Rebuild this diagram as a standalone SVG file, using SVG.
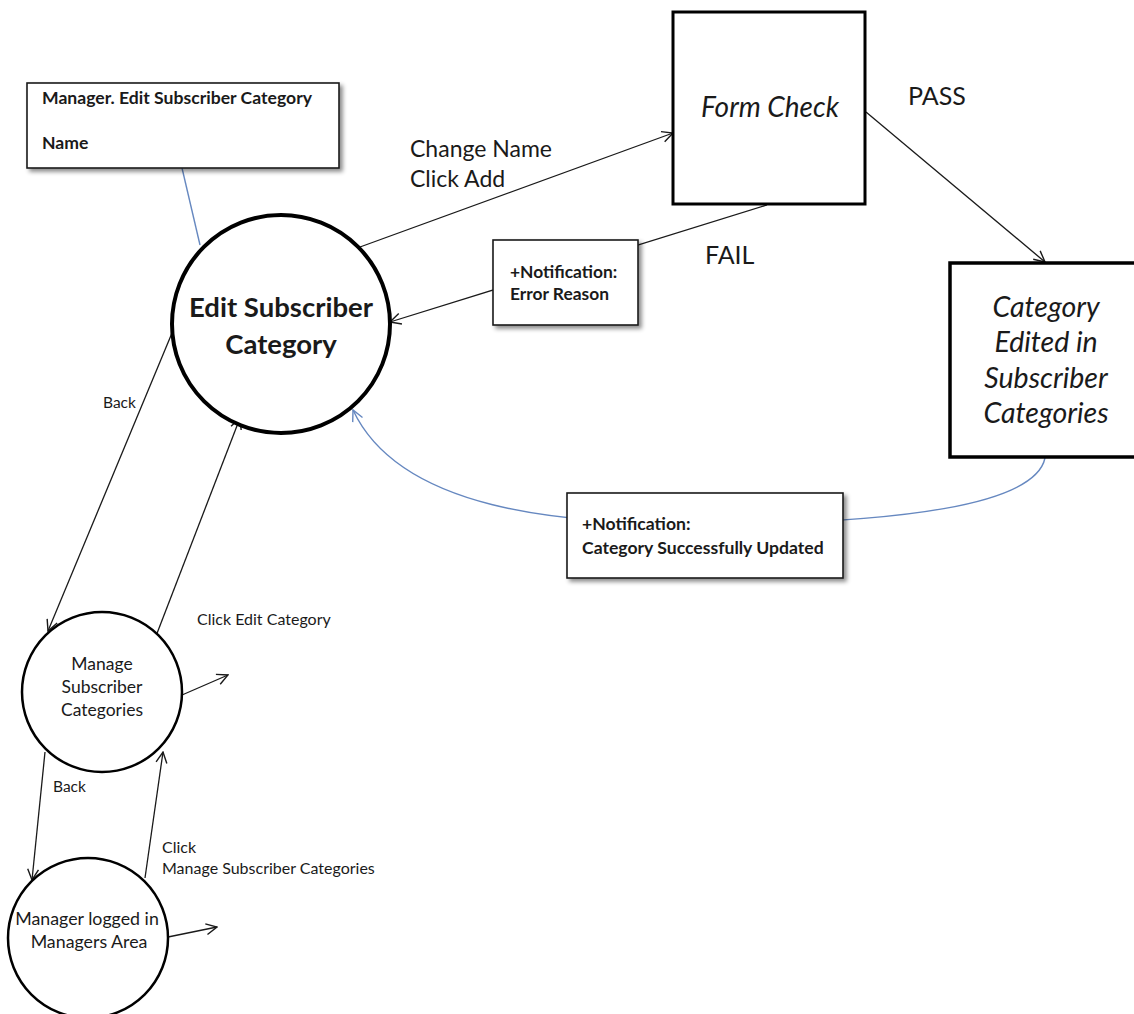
<svg xmlns="http://www.w3.org/2000/svg" width="1134" height="1014" viewBox="0 0 1134 1014">
<style>
.t{font-family:Lato,"Liberation Sans",sans-serif;fill:#1a1a1a}
.b{font-weight:bold}
.i{font-style:italic}
.ln{stroke:#1a1a1a;stroke-width:1.3;fill:none}
.bl{stroke:#6688c0;stroke-width:1.4;fill:none}
.box{fill:#fff;stroke:#1a1a1a;stroke-width:1.6}
</style>
<defs>
<marker id="ah" viewBox="0 0 12 12" refX="11" refY="6" markerWidth="13" markerHeight="13" orient="auto" markerUnits="userSpaceOnUse">
<path d="M1,1 L11,6 L1,11" fill="none" stroke="#1a1a1a" stroke-width="1.3"/>
</marker>
<marker id="ahb" viewBox="0 0 12 12" refX="11" refY="6" markerWidth="13" markerHeight="13" orient="auto" markerUnits="userSpaceOnUse">
<path d="M1,1 L11,6 L1,11" fill="none" stroke="#6688c0" stroke-width="1.3"/>
</marker>
<filter id="sh" x="-10%" y="-10%" width="130%" height="140%">
<feDropShadow dx="3" dy="3" stdDeviation="2" flood-color="#000" flood-opacity="0.45"/>
</filter>
</defs>
<rect width="1134" height="1014" fill="#fff"/>

<g id="connectors">
<line class="bl" x1="182" y1="168" x2="200" y2="245"/>
<line class="ln" x1="360" y1="247" x2="673" y2="133" marker-end="url(#ah)"/>
<line class="ln" x1="767" y1="205" x2="390" y2="322" marker-end="url(#ah)"/>
<line class="ln" x1="866" y1="112" x2="1045" y2="262" marker-end="url(#ah)"/>
<path class="bl" d="M1045,458 C1035,505 900,524 700,524 C560,524 400,510 353,410" marker-end="url(#ahb)"/>
<line class="ln" x1="172" y1="333" x2="48" y2="631" marker-end="url(#ah)"/>
<line class="ln" x1="156" y1="636" x2="240" y2="418" marker-end="url(#ah)"/>
<line class="ln" x1="182" y1="695" x2="228" y2="675" marker-end="url(#ah)"/>
<line class="ln" x1="45" y1="752" x2="32" y2="880" marker-end="url(#ah)"/>
<line class="ln" x1="145" y1="878" x2="163" y2="752" marker-end="url(#ah)"/>
<line class="ln" x1="168" y1="937" x2="217" y2="927" marker-end="url(#ah)"/>
<text class="t" x="410" y="157" font-size="23">Change Name</text>
<text class="t" x="410" y="187" font-size="23">Click Add</text>
<text class="t" x="908" y="105" font-size="25">PASS</text>
<text class="t" x="705" y="264" font-size="25">FAIL</text>
<text class="t" x="103" y="408" font-size="15.5">Back</text>
<text class="t" x="197" y="625" font-size="16">Click Edit Category</text>
<text class="t" x="53" y="792" font-size="15.5">Back</text>
<text class="t" x="162" y="853" font-size="16">Click</text>
<text class="t" x="162" y="874" font-size="16">Manage Subscriber Categories</text>
</g>

<g id="note-form">
<rect class="box" x="27" y="83" width="312" height="85" filter="url(#sh)"/>
<text class="t b" x="42" y="104" font-size="17.6">Manager. Edit Subscriber Category</text>
<text class="t b" x="42" y="149" font-size="17.6">Name</text>
</g>

<g id="edit-category">
<circle cx="281" cy="324" r="109" fill="#fff" stroke="#000" stroke-width="4"/>
<text class="t b" x="281" y="317" font-size="27.5" text-anchor="middle">Edit Subscriber</text>
<text class="t b" x="281" y="354" font-size="27.5" text-anchor="middle">Category</text>
</g>

<g id="form-check">
<rect x="673" y="12" width="192" height="192" fill="#fff" stroke="#000" stroke-width="3"/>
<text class="t i" x="770" y="117" font-size="28" text-anchor="middle">Form Check</text>
</g>

<g id="error-note">
<rect class="box" x="493" y="240" width="145" height="85" filter="url(#sh)"/>
<text class="t b" x="510" y="278" font-size="17.4">+Notification:</text>
<text class="t b" x="510" y="300" font-size="17.4">Error Reason</text>
</g>

<g id="category-edited">
<rect x="950" y="263" width="200" height="194" fill="#fff" stroke="#000" stroke-width="3.5"/>
<text class="t i" x="1046" y="317" font-size="28.5" text-anchor="middle">Category</text>
<text class="t i" x="1046" y="352" font-size="28.5" text-anchor="middle">Edited in</text>
<text class="t i" x="1046" y="388" font-size="28.5" text-anchor="middle">Subscriber</text>
<text class="t i" x="1046" y="423" font-size="28.5" text-anchor="middle">Categories</text>
</g>

<g id="success-note">
<rect class="box" x="567" y="493" width="276" height="85" filter="url(#sh)"/>
<text class="t b" x="582" y="530" font-size="17.6">+Notification:</text>
<text class="t b" x="582" y="554" font-size="17.6">Category Successfully Updated</text>
</g>

<g id="manage-categories">
<circle cx="102" cy="692" r="80" fill="#fff" stroke="#000" stroke-width="2.5"/>
<text class="t" x="102" y="670" font-size="17.5" text-anchor="middle">Manage</text>
<text class="t" x="102" y="693" font-size="17.5" text-anchor="middle">Subscriber</text>
<text class="t" x="102" y="716" font-size="17.5" text-anchor="middle">Categories</text>
</g>

<g id="manager-area">
<circle cx="88" cy="938" r="80" fill="#fff" stroke="#000" stroke-width="2.5"/>
<text class="t" x="87" y="925" font-size="17.8" text-anchor="middle">Manager logged in</text>
<text class="t" x="89" y="948" font-size="17.8" text-anchor="middle">Managers Area</text>
</g>
</svg>
